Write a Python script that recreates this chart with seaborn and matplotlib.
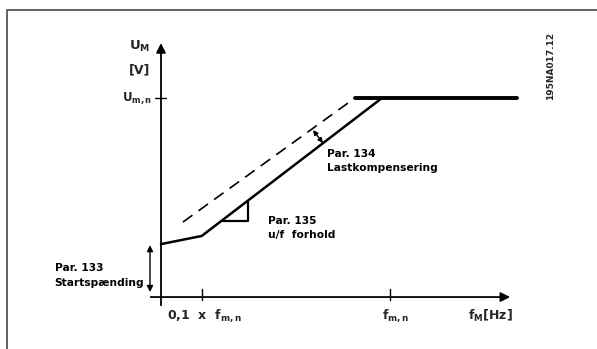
import numpy as np
import pandas as pd
import matplotlib
matplotlib.use("Agg")
import matplotlib.pyplot as plt
import seaborn as sns

# U/f characteristic, x in fractions of f_m,n, y in fractions of U_m,n
solid_f = [0.0, 0.178, 0.965]
solid_u = [0.266, 0.307, 1.0]
dashed_f = [0.096, 0.847]
dashed_u = [0.377, 1.0]
flat_f = [0.847, 1.555]
flat_u = [1.0, 1.0]

tri_f = [0.271, 0.380, 0.380]
tri_u = [0.382, 0.382, 0.477]

x_ticks = [0.178, 1.0]
y_ticks = [1.0]

sns.set_theme(style="white")
plt.rcParams["font.family"] = ["DejaVu Sans"]
plt.rcParams["mathtext.fontset"] = "dejavusans"

fig = plt.figure(figsize=(5.97, 3.49), dpi=100)
ax = fig.add_axes([0, 0, 1, 1])
ax.set_xlim(-0.703, 1.904)
ax.set_ylim(-0.261, 1.4925)
ax.axis("off")

# frame
ax.plot([-0.672, -0.672, 1.95], [-0.3, 1.442, 1.442], color="#555555", lw=1.3,
        clip_on=False)

df_solid = pd.DataFrame({"f": solid_f, "u": solid_u})
df_dash = pd.DataFrame({"f": dashed_f, "u": dashed_u})
df_flat = pd.DataFrame({"f": flat_f, "u": flat_u})
sns.lineplot(data=df_solid, x="f", y="u", sort=False, color="black", lw=1.8, ax=ax)
sns.lineplot(data=df_dash, x="f", y="u", sort=False, color="black", lw=1.2,
             linestyle=(0, (7, 4.5)), ax=ax)
sns.lineplot(data=df_flat, x="f", y="u", sort=False, color="black", lw=2.8, ax=ax)
ax.plot(tri_f, tri_u, color="black", lw=1.6)

# axes with arrow heads
ax.annotate("", xy=(1.537, 0), xytext=(-0.057, 0),
            arrowprops=dict(arrowstyle="-|>", color="black", lw=1.3, mutation_scale=14))
ax.annotate("", xy=(0, 1.29), xytext=(0, -0.055),
            arrowprops=dict(arrowstyle="-|>", color="black", lw=1.3, mutation_scale=14))
for t in x_ticks:
    ax.plot([t, t], [-0.015, 0.04], color="black", lw=1.0)
for t in y_ticks:
    ax.plot([-0.025, 0.02], [t, t], color="black", lw=1.0)

# double arrows
ax.annotate("", xy=(0.664, 0.839), xytext=(0.707, 0.774),
            arrowprops=dict(arrowstyle="<|-|>", color="black", lw=1.0, mutation_scale=7,
                            shrinkA=0, shrinkB=0))
ax.annotate("", xy=(-0.048, 0.261), xytext=(-0.048, 0.025),
            arrowprops=dict(arrowstyle="<|-|>", color="black", lw=1.0, mutation_scale=9,
                            shrinkA=0, shrinkB=0))

fs = 7.7
kw = dict(fontsize=fs, fontweight="bold", color="black")
ax.text(-0.045, 1.26, r"$\mathbf{U_{M}}$", ha="right", va="center", fontsize=9.5)
ax.text(-0.045, 1.14, "[V]", ha="right", va="center", fontsize=9, fontweight="bold")
ax.text(-0.04, 1.0, r"$\mathbf{U_{m,n}}$", ha="right", va="center", fontsize=8.5)
ax.text(0.725, 0.72, "Par. 134", ha="left", va="center", **kw)
ax.text(0.725, 0.65, "Lastkompensering", ha="left", va="center", **kw)
ax.text(0.467, 0.382, "Par. 135", ha="left", va="center", **kw)
ax.text(0.467, 0.31, "u/f  forhold", ha="left", va="center", **kw)
ax.text(-0.465, 0.145, "Par. 133", ha="left", va="center", **kw)
ax.text(-0.465, 0.07, "Startspænding", ha="left", va="center", **kw)
ax.text(0.027, -0.095, r"0,1  x  $\mathbf{f_{m,n}}$", ha="left", va="center",
        fontsize=9, fontweight="bold")
ax.text(0.965, -0.095, r"$\mathbf{f_{m,n}}$", ha="left", va="center", fontsize=9)
ax.text(1.34, -0.095, r"$\mathbf{f_{M}}$[Hz]", ha="left", va="center",
        fontsize=9, fontweight="bold")
ax.text(1.70, 1.16, "195NA017.12", rotation=90, ha="center", va="center",
        fontsize=6.5, fontweight="bold")

fig.savefig("out.png", dpi=100)
